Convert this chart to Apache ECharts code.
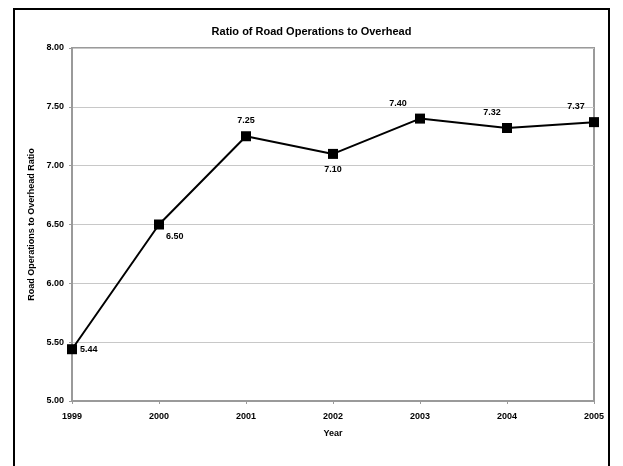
<!DOCTYPE html>
<html>
<head>
<meta charset="utf-8">
<script src="https://cdn.jsdelivr.net/npm/echarts@6/dist/echarts.min.js"></script>
<style>
  html, body { margin: 0; padding: 0; background: #fff; }
  #chart { width: 623px; height: 466px; }
</style>
</head>
<body>
<div id="chart"></div>
<script>
    'use strict';

    // chart data
    var years = ['1999', '2000', '2001', '2002', '2003', '2004', '2005'];
    var ratios = [5.44, 6.50, 7.25, 7.10, 7.40, 7.32, 7.37];
    // where each value label sits relative to its point
    var labelPos = ['right', 'right', 'top', 'bottom', 'top', 'top', 'top'];
    var labelOffset = [[0, 0], [0, 12], [0, 0], [0, 0], [-22, 0], [-15, 0], [-18, 0]];
    var labelDist = [3, 2, 6, 6, 6, 6, 6];

    var font = '"Liberation Sans", Arial, sans-serif';

    var chart = echarts.init(document.getElementById('chart'));

    var points = ratios.map(function(v, i) {
        return {
            value: v,
            label: {
                position: labelPos[i],
                offset: labelOffset[i],
                distance: labelDist[i]
            }
        };
    });

    var option = {
        backgroundColor: '#ffffff',
        animation: false,
        textStyle: { fontFamily: font },
        title: {
            text: 'Ratio of Road Operations to Overhead',
            left: 'center',
            top: 21,
            textStyle: {
                fontSize: 11,
                fontWeight: 'bold',
                color: '#000',
                fontFamily: font
            }
        },
        // outer frame of the picture
        graphic: [{
            type: 'rect',
            silent: true,
            shape: { x: 14, y: 9, width: 595, height: 480 },
            style: { fill: 'none', stroke: '#000', lineWidth: 2 }
        }],
        grid: {
            left: 72,
            right: 29,
            top: 48,
            bottom: 65,
            show: true,
            borderColor: '#9a9a9a',
            borderWidth: 2
        },
        xAxis: {
            type: 'category',
            data: years,
            boundaryGap: false,
            name: 'Year',
            nameLocation: 'middle',
            nameGap: 28,
            nameTextStyle: { fontSize: 9, fontWeight: 'bold', color: '#000' },
            axisLine: { lineStyle: { color: '#9a9a9a', width: 2 } },
            axisTick: { alignWithLabel: true, length: 3, lineStyle: { color: '#9a9a9a' } },
            axisLabel: { fontSize: 9, fontWeight: 'bold', color: '#000', margin: 11 },
            splitLine: { show: false }
        },
        yAxis: {
            type: 'value',
            min: 5,
            max: 8,
            interval: 0.5,
            name: 'Road Operations to Overhead Ratio',
            nameLocation: 'middle',
            nameGap: 32,
            nameTextStyle: { fontSize: 9, fontWeight: 'bold', color: '#000' },
            axisLine: { show: true, lineStyle: { color: '#9a9a9a', width: 2 } },
            axisTick: { show: true, length: 3, lineStyle: { color: '#9a9a9a' } },
            axisLabel: {
                fontSize: 9,
                fontWeight: 'bold',
                color: '#000',
                margin: 8,
                formatter: function(v) { return v.toFixed(2); }
            },
            splitLine: { lineStyle: { color: '#c8c8c8', width: 1 } }
        },
        series: [{
            type: 'line',
            data: points,
            symbol: 'rect',
            symbolSize: 10,
            lineStyle: { color: '#000', width: 2 },
            itemStyle: { color: '#000' },
            label: {
                show: true,
                fontSize: 9,
                fontWeight: 'bold',
                color: '#000',
                formatter: function(p) { return p.value.toFixed(2); }
            }
        }]
    };

    chart.setOption(option);
</script>
</body>
</html>
